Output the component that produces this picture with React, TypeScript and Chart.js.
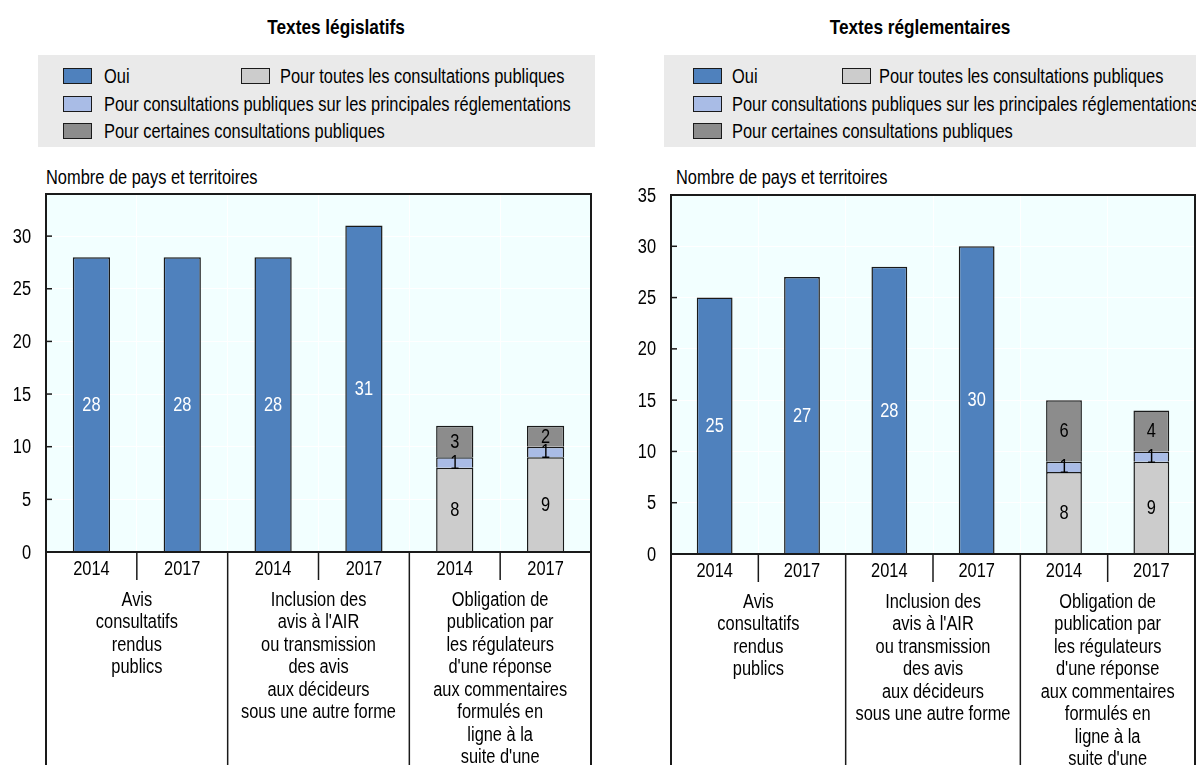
import React, { useEffect, useRef } from "react";
import { Chart, registerables } from "chart.js";

Chart.register(...registerables);

const FONT = '"Liberation Sans", Arial, sans-serif';
// condensed look: glyphs are narrowed horizontally
const SX = 0.82;

// Categories: survey year, grouped by practice
const years = ["2014", "2017", "2014", "2017", "2014", "2017"];
const groupLabels = [
  ["Avis", "consultatifs", "rendus", "publics"],
  ["Inclusion des", "avis à l'AIR", "ou transmission", "des avis", "aux décideurs", "sous une autre forme"],
  [
    "Obligation de",
    "publication par",
    "les régulateurs",
    "d'une réponse",
    "aux commentaires",
    "formulés en",
    "ligne à la",
    "suite d'une",
  ],
];

const seriesNames = [
  "Oui",
  "Pour toutes les consultations publiques",
  "Pour consultations publiques sur les principales réglementations",
  "Pour certaines consultations publiques",
];
const seriesColors = ["#4F81BD", "#CCCCCC", "#A9BCE6", "#8C8C8C"];
const labelColors = ["#FFFFFF", "#000000", "#000000", "#000000"];

// Textes législatifs
const legOui = [28, 28, 28, 31, null, null];
const legToutes = [null, null, null, null, 8, 9];
const legPrincipales = [null, null, null, null, 1, 1];
const legCertaines = [null, null, null, null, 3, 2];

// Textes réglementaires
const regOui = [25, 27, 28, 30, null, null];
const regToutes = [null, null, null, null, 8, 9];
const regPrincipales = [null, null, null, null, 1, 1];
const regCertaines = [null, null, null, null, 6, 4];

const yStep = 5;
const yCaption = "Nombre de pays et territoires";

type PanelProps = {
  title: string;
  titleCenter: number;
  series: (number | null)[][];
  yMax: number;
  left: number;
  width: number;
  padding: { left: number; right: number; top: number; bottom: number };
  legend: { boxLeft: number; boxWidth: number; sw1: number; tx1: number; sw2: number; tx2: number };
  captionLeft: number;
};

const CANVAS_TOP = 160;
const CANVAS_H = 605;

function narrowText(ctx: CanvasRenderingContext2D, s: string, x: number, y: number) {
  ctx.save();
  ctx.translate(x, y);
  ctx.scale(SX, 1);
  ctx.fillText(s, 0, 0);
  ctx.restore();
}

function decorPlugin() {
  return {
    id: "panelDecor",
    beforeDraw(chart: any) {
      const { ctx, chartArea: a } = chart;
      ctx.save();
      ctx.fillStyle = "#F2FFFF";
      ctx.fillRect(a.left, a.top, a.right - a.left, a.bottom - a.top);
      ctx.restore();
    },
    afterDatasetsDraw(chart: any) {
      const { ctx } = chart;
      ctx.save();
      ctx.font = `20px ${FONT}`;
      ctx.textAlign = "center";
      ctx.textBaseline = "middle";
      chart.data.datasets.forEach((ds: any, d: number) => {
        const meta = chart.getDatasetMeta(d);
        meta.data.forEach((bar: any, i: number) => {
          const v = ds.data[i];
          if (v === null || v === undefined) return;
          const { x, y, base } = bar.getProps(["x", "y", "base"], true);
          ctx.fillStyle = labelColors[d];
          narrowText(ctx, String(v), x, (y + base) / 2 + 1);
        });
      });
      ctx.restore();
    },
    afterDraw(chart: any) {
      const { ctx, chartArea: a, scales } = chart;
      const xs = scales.x;
      const ys = scales.y;
      const H = chart.height;
      ctx.save();
      ctx.strokeStyle = "#1A1A1A";
      ctx.fillStyle = "#000";

      // inward tick marks and tick labels
      ctx.lineWidth = 1.5;
      ctx.font = `20px ${FONT}`;
      ctx.textAlign = "right";
      ctx.textBaseline = "middle";
      ys.ticks.forEach((t: any) => {
        const py = ys.getPixelForValue(t.value);
        ctx.beginPath();
        ctx.moveTo(a.left, py);
        ctx.lineTo(a.left + 6, py);
        ctx.stroke();
        narrowText(ctx, String(t.value), a.left - 15, py + 1);
      });

      // frame
      ctx.lineWidth = 2;
      ctx.beginPath();
      ctx.moveTo(a.left, H);
      ctx.lineTo(a.left, a.top);
      ctx.lineTo(a.right, a.top);
      ctx.lineTo(a.right, H);
      ctx.stroke();
      ctx.beginPath();
      ctx.moveTo(a.left, a.bottom);
      ctx.lineTo(a.right, a.bottom);
      ctx.stroke();

      // separators: years inside a group, and between groups
      ctx.lineWidth = 1.5;
      for (let g = 0; g < groupLabels.length; g++) {
        const mid = xs.getPixelForValue(g * 2 + 0.5);
        ctx.beginPath();
        ctx.moveTo(mid, a.bottom);
        ctx.lineTo(mid, a.bottom + 28);
        ctx.stroke();
        if (g > 0) {
          const edge = xs.getPixelForValue(g * 2 - 0.5);
          ctx.beginPath();
          ctx.moveTo(edge, a.bottom);
          ctx.lineTo(edge, H);
          ctx.stroke();
        }
      }

      // year labels
      ctx.textAlign = "center";
      years.forEach((yr, i) => {
        narrowText(ctx, yr, xs.getPixelForValue(i), a.bottom + 17);
      });

      // group labels
      groupLabels.forEach((lines, g) => {
        const cx = xs.getPixelForValue(g * 2 + 0.5);
        lines.forEach((ln, k) => {
          narrowText(ctx, ln, cx, a.bottom + 48 + k * 22.5);
        });
      });
      ctx.restore();
    },
  };
}

function Panel(p: PanelProps) {
  const ref = useRef<HTMLCanvasElement | null>(null);

  useEffect(() => {
    if (!ref.current) return;
    const chart = new Chart(ref.current, {
      type: "bar",
      data: {
        labels: years,
        datasets: p.series.map((data, d) => ({
          label: seriesNames[d],
          data,
          backgroundColor: seriesColors[d],
          borderColor: "#1A1A1A",
          borderWidth: 1.5,
          barPercentage: 0.41,
          categoryPercentage: 1,
        })),
      },
      options: {
        animation: false,
        responsive: false,
        layout: { padding: p.padding },
        plugins: {
          legend: { display: false },
          tooltip: { enabled: false },
          title: { display: false },
        },
        scales: {
          x: {
            stacked: true,
            offset: true,
            ticks: { display: false },
            grid: { color: "#FFFFFF", lineWidth: 1, drawTicks: false, offset: true },
            border: { display: false },
          },
          y: {
            stacked: true,
            min: 0,
            max: p.yMax,
            ticks: { display: false, stepSize: yStep },
            grid: { color: "#FFFFFF", lineWidth: 1, drawTicks: false },
            border: { display: false },
            afterBuildTicks: (s: any) => {
              s.ticks = s.ticks.filter((t: any) => t.value % yStep === 0);
            },
          },
        },
      } as any,
      plugins: [decorPlugin()],
    });
    return () => chart.destroy();
  }, []);

  const lg = p.legend;
  const rowY = [76, 104, 131];
  const swatch = (x: number, y: number, color: string) => (
    <div
      style={{
        position: "absolute",
        left: x,
        top: y - 8,
        width: 29,
        height: 16,
        boxSizing: "border-box",
        border: "1.5px solid #1A1A1A",
        background: color,
      }}
    />
  );
  const text = (x: number, y: number, s: string) => (
    <div
      style={{
        position: "absolute",
        left: x,
        top: y - 12,
        height: 24,
        lineHeight: "24px",
        whiteSpace: "nowrap",
        fontSize: 20,
        color: "#000",
        transform: `scaleX(${SX})`,
        transformOrigin: "left center",
      }}
    >
      {s}
    </div>
  );

  return (
    <>
      <div
        style={{
          position: "absolute",
          left: p.titleCenter - 200,
          width: 400,
          top: 14,
          lineHeight: "26px",
          textAlign: "center",
          fontWeight: "bold",
          fontSize: 21,
          transform: `scaleX(${SX})`,
          transformOrigin: "center center",
        }}
      >
        {p.title}
      </div>
      <div
        style={{
          position: "absolute",
          left: lg.boxLeft,
          top: 55,
          width: lg.boxWidth,
          height: 92,
          background: "#EAEAEA",
        }}
      />
      {swatch(lg.sw1, rowY[0], seriesColors[0])}
      {text(lg.tx1, rowY[0], seriesNames[0])}
      {swatch(lg.sw2, rowY[0], seriesColors[1])}
      {text(lg.tx2, rowY[0], seriesNames[1])}
      {swatch(lg.sw1, rowY[1], seriesColors[2])}
      {text(lg.tx1, rowY[1], seriesNames[2])}
      {swatch(lg.sw1, rowY[2], seriesColors[3])}
      {text(lg.tx1, rowY[2], seriesNames[3])}
      {text(p.captionLeft, 177, yCaption)}
      <canvas
        ref={ref}
        width={p.width}
        height={CANVAS_H}
        style={{ position: "absolute", left: p.left, top: CANVAS_TOP, width: p.width, height: CANVAS_H }}
      />
    </>
  );
}

export default function App() {
  return (
    <div
      style={{
        position: "fixed",
        left: 0,
        top: 0,
        width: 1196,
        height: 765,
        overflow: "hidden",
        background: "#FFFFFF",
        fontFamily: FONT,
        color: "#000",
      }}
    >
      <Panel
        title="Textes législatifs"
        titleCenter={336}
        series={[legOui, legToutes, legPrincipales, legCertaines]}
        yMax={34}
        left={0}
        width={600}
        padding={{ left: 46, right: 9, top: 34, bottom: 213 }}
        legend={{ boxLeft: 38, boxWidth: 557, sw1: 63, tx1: 104, sw2: 241, tx2: 280 }}
        captionLeft={46}
      />
      <Panel
        title="Textes réglementaires"
        titleCenter={920}
        series={[regOui, regToutes, regPrincipales, regCertaines]}
        yMax={35}
        left={600}
        width={596}
        padding={{ left: 71, right: 1, top: 35, bottom: 211 }}
        legend={{ boxLeft: 664, boxWidth: 532, sw1: 693, tx1: 732, sw2: 842, tx2: 879 }}
        captionLeft={676}
      />
    </div>
  );
}
